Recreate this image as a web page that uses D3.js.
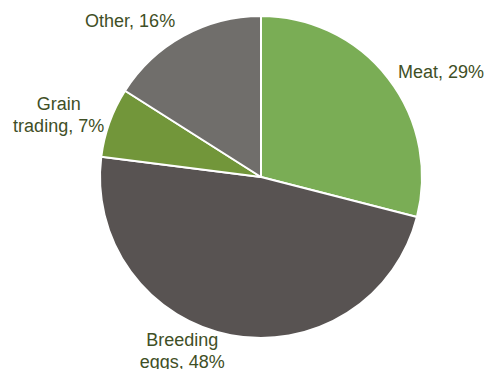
<!DOCTYPE html>
<html>
<head>
<meta charset="utf-8">
<script src="https://cdn.jsdelivr.net/npm/d3@7"></script>
<style>
  html, body { margin: 0; padding: 0; background: #ffffff; }
  svg { display: block; }
</style>
</head>
<body>
<svg id="chart" width="489" height="369"></svg>
<script>
// Revenue split by business segment (percent)
const categories = ["Meat", "Breeding eggs", "Grain trading", "Other"];
const labelLines = [["Meat, 29%"], ["Breeding", "eggs, 48%"], ["Grain", "trading, 7%"], ["Other, 16%"]];
const values = [29, 48, 7, 16];
const colors = ["#7aad55", "#585352", "#72963a", "#706e6b"];

const width = 489, height = 369;
const cx = 261, cy = 177, radius = 161;
const labelRadius = 172;
const lineHeight = 22;
// small hand adjustments to each label block [dx, dy]
const labelNudge = [[1, 0], [-4, 5], [5, -4], [-3, -5.6]];

const svg = d3.select("#chart");
const g = svg.append("g").attr("transform", `translate(${cx},${cy})`);

const pie = d3.pie().sort(null).value(d => d)(values);
const arc = d3.arc().innerRadius(0).outerRadius(radius);

g.selectAll("path.slice")
  .data(pie)
  .join("path")
  .attr("class", "slice")
  .attr("d", arc)
  .attr("fill", (d, i) => colors[i])
  .attr("stroke", "#ffffff")
  .attr("stroke-width", 2)
  .attr("stroke-linejoin", "round");

// Labels outside the pie, aligned against the slice's mid angle
pie.forEach((d, i) => {
  const a = (d.startAngle + d.endAngle) / 2;
  const px = Math.sin(a) * labelRadius;
  const py = -Math.cos(a) * labelRadius;
  const lines = labelLines[i];
  const t = g.append("text")
    .attr("font-family", "'Liberation Sans', Arial, sans-serif")
    .attr("font-size", 18)
    .attr("fill", "#3f4f26")
    .attr("text-anchor", "middle");
  lines.forEach(s => t.append("tspan").text(s));
  const tspans = t.selectAll("tspan").nodes();
  const widthMax = d3.max(tspans, n => n.getComputedTextLength());
  let bx;
  if (Math.sin(a) > 0.05) bx = px + widthMax / 2;
  else bx = px - widthMax / 2;
  bx += labelNudge[i][0];
  const centerY = py + labelNudge[i][1];
  const firstCenter = centerY - (lines.length - 1) * lineHeight / 2;
  tspans.forEach((n, k) => {
    d3.select(n)
      .attr("x", bx)
      .attr("y", firstCenter + k * lineHeight + 6.3);
  });
});
</script>
</body>
</html>
